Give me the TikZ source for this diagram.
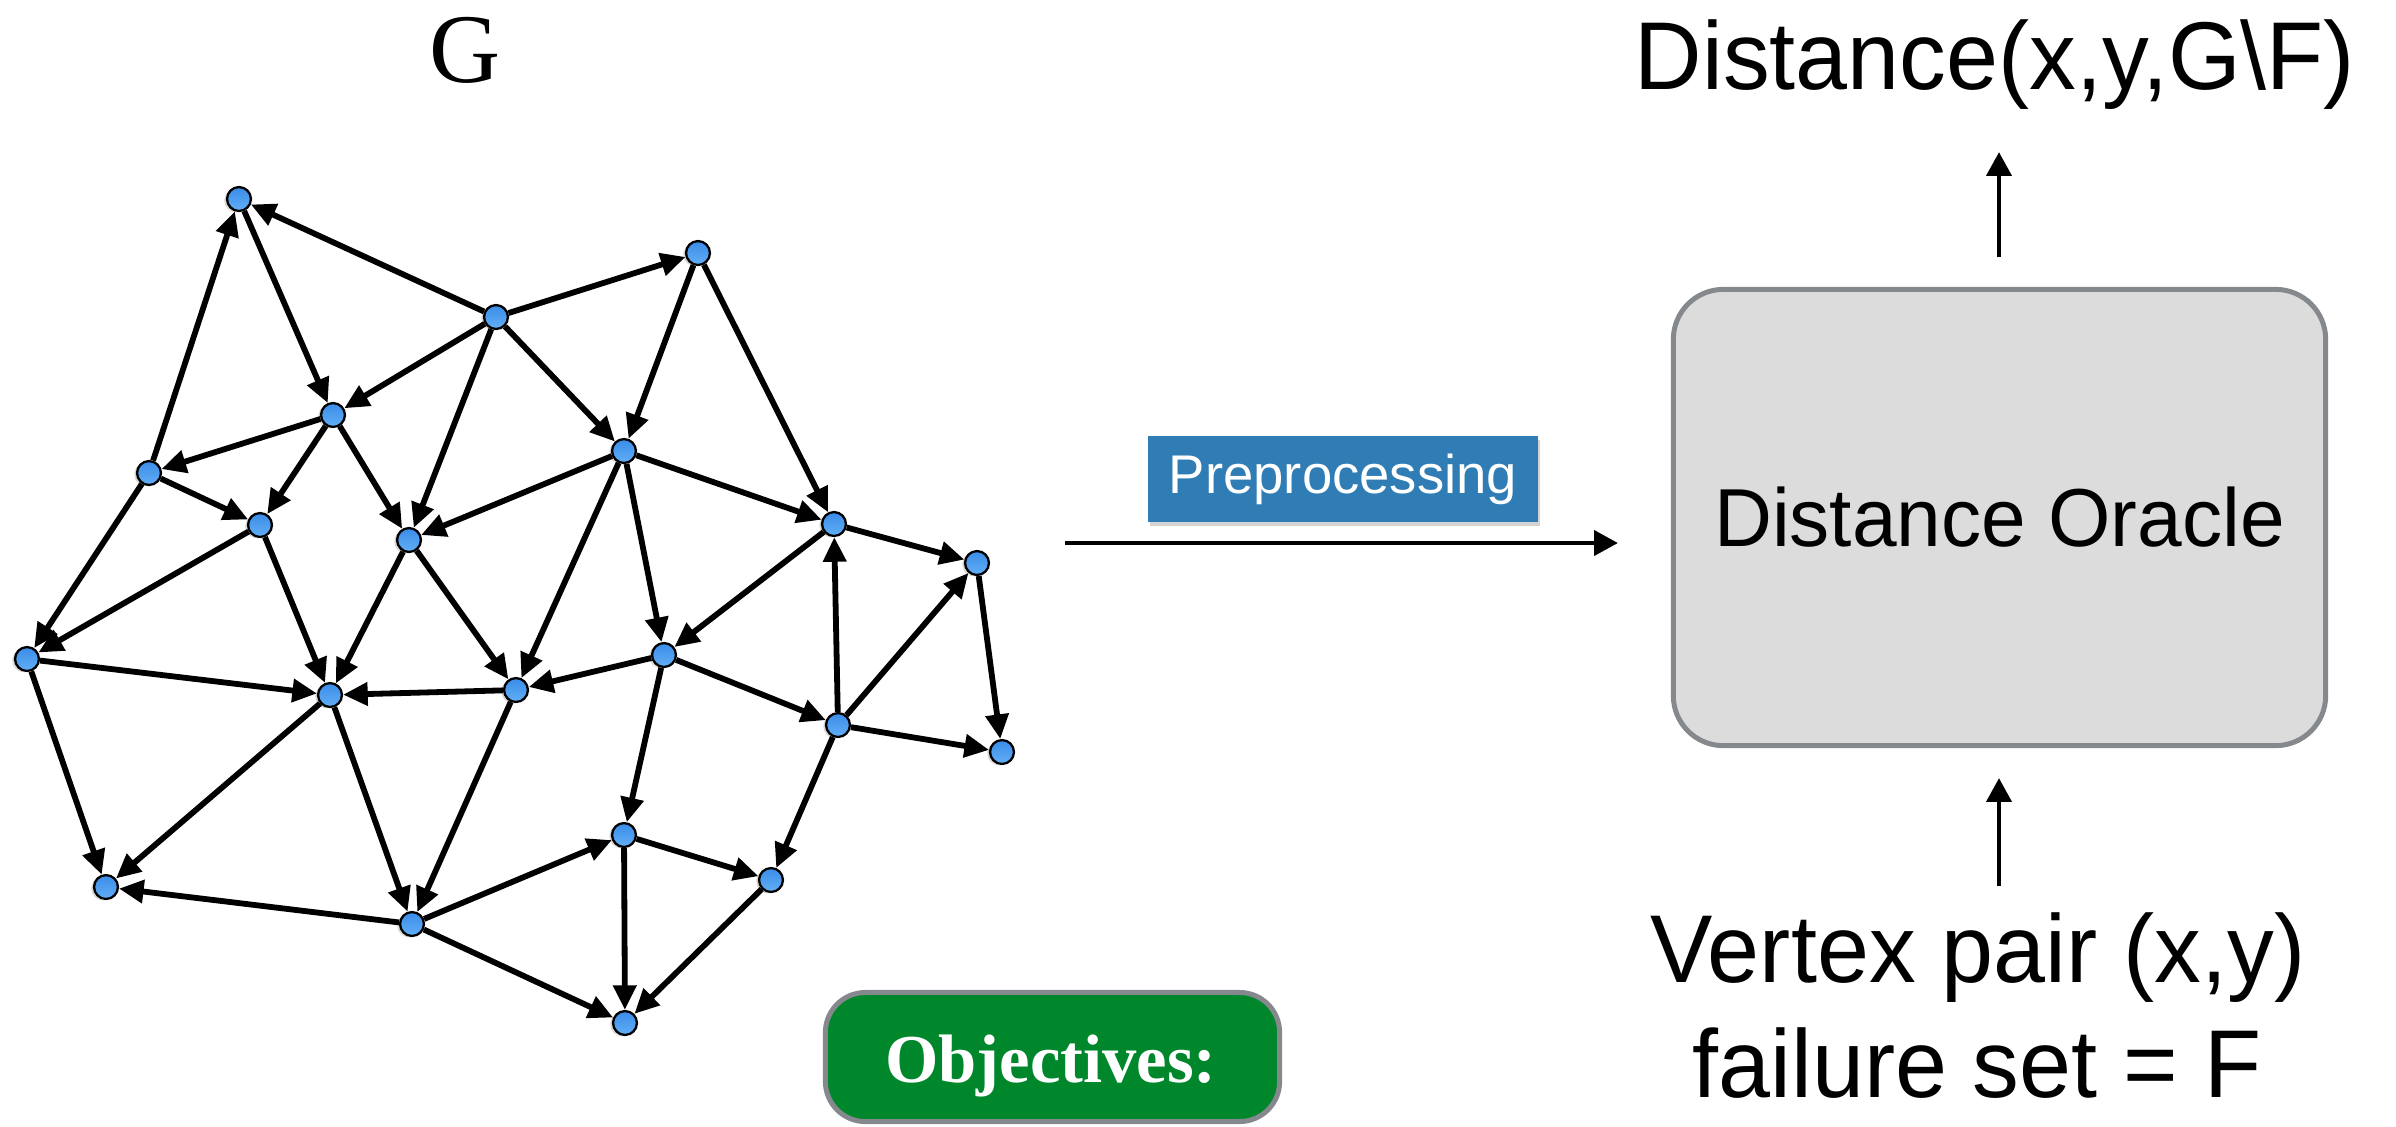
\documentclass[tikz,border=0pt]{standalone}
\usepackage{fontspec}
\usepackage{graphicx}
\usetikzlibrary{arrows.meta,shadows}
\newfontfamily\hfont{Liberation Sans}
\newfontfamily\gfont{Liberation Serif}
\definecolor{boxgray}{HTML}{85898D}
\definecolor{oraclefill}{HTML}{DCDCDC}
\definecolor{prepblue}{HTML}{2F7DB4}
\definecolor{objgreen}{HTML}{00872C}
\definecolor{vtxtop}{HTML}{3A8CE8}
\definecolor{vtxbottom}{HTML}{62AFF6}
\begin{document}
\begin{tikzpicture}[x=0.01cm, y=-0.01cm,
  vtx/.style={circle, draw=black, line width=0.65pt, minimum size=6.8pt, inner sep=0pt,
    top color=vtxtop, bottom color=vtxbottom,
    drop shadow={shadow xshift=-0.8pt, shadow yshift=-0.4pt, opacity=0.3}},
  arc/.style={-{Triangle[length=7pt,width=6.4pt]}, line width=1.65pt},
  bigarrow/.style={-{Triangle[length=6.8pt,width=7pt]}, line width=1.4pt},
  bigtext/.style={anchor=base, font=\hfont\fontsize{27.4}{30}\selectfont}]
\useasboundingbox (0,0) rectangle (2396,1126);

% vertices of the graph G
\foreach \n/\x/\y in {n1/239/199, n2/698/253, n3/496/317, n4/333/415, n5/624/451,
  n6/149/473, n7/260/525, n8/409/540, n9/834/524, n10/977/563, n11/27/659,
  n12/664/655, n13/516/690, n14/330/695, n15/838/725, n16/1002/752,
  n17/624/835, n18/771/880, n19/106/887, n20/412/924, n21/625/1023}
  \node[vtx] (\n) at (\x,\y) {};

% directed edges
\foreach \a/\b in {n3/n1, n6/n1, n1/n4, n3/n2, n3/n4, n3/n8, n3/n5, n2/n5, n2/n9,
  n4/n6, n4/n7, n4/n8, n6/n7, n6/n11, n7/n11, n7/n14, n5/n8, n5/n13, n5/n12,
  n5/n9, n8/n14, n8/n13, n9/n10, n9/n12, n15/n9, n15/n10, n10/n16, n15/n16,
  n12/n15, n12/n13, n12/n17, n13/n14, n11/n14, n11/n19, n14/n19, n14/n20,
  n13/n20, n20/n19, n20/n17, n20/n21, n17/n18, n17/n21, n18/n21, n15/n18}
  \draw[arc] (\a) -- (\b);

% graph name
\node[anchor=base, font=\gfont\fontsize{28}{30}\selectfont] (gname) at (465,82) {G};

% preprocessing step
\node[fill=prepblue, minimum width=3.9cm, minimum height=0.86cm, inner sep=0pt,
  text=white, font=\hfont\fontsize{15.5}{18}\selectfont,
  drop shadow={shadow xshift=0.6pt, shadow yshift=-1pt, opacity=0.35}]
  (prep) at (1343,479) {Preprocessing};
\coordinate (prepstart) at (1065,543);
\coordinate (prepend) at (1618,543);
\draw[bigarrow] (prepstart) -- (prepend);

% the oracle
\node[draw=boxgray, line width=1.42pt, fill=oraclefill, rounded corners=0.5cm,
  minimum width=6.52cm, minimum height=4.56cm, inner sep=0pt,
  font=\hfont\fontsize{23.4}{26}\selectfont]
  (oracle) at (1999.5,517.5) {\scalebox{0.975}[1]{Distance Oracle}};

% query output
\node[bigtext] (dist) at (1995,89) {\scalebox{0.97}[1]{Distance(x,y,G\textbackslash F)}};
\coordinate (outstart) at (1999,257);
\coordinate (outend) at (1999,152);
\draw[bigarrow] (outstart) -- (outend);

% query input
\coordinate (instart) at (1999,886);
\coordinate (inend) at (1999,778);
\draw[bigarrow] (instart) -- (inend);
\node[bigtext] (vpair) at (1978,982) {\scalebox{0.97}[1]{Vertex pair (x,y)}};
\node[bigtext] (fset) at (1977,1097) {\scalebox{0.97}[1]{failure set = F}};

% objectives banner
\node[draw=boxgray, line width=1.42pt, fill=objgreen, rounded corners=0.4cm,
  minimum width=4.54cm, minimum height=1.29cm, inner sep=0pt]
  (objbox) at (1052.5,1057) {};
\node[anchor=base, text=white, font=\gfont\bfseries\fontsize{19.5}{22}\selectfont]
  (objtext) at (1051,1082) {Objectives:};
\end{tikzpicture}
\end{document}
